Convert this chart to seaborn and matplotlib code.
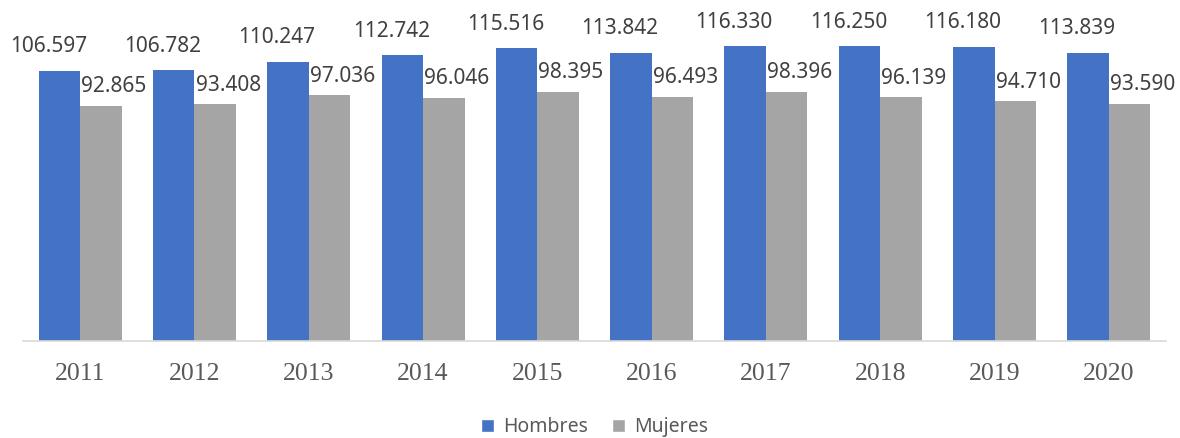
import pandas as pd
import seaborn as sns
import matplotlib.pyplot as plt
from matplotlib.patches import Patch

# data
years = ['2011', '2012', '2013', '2014', '2015', '2016', '2017', '2018', '2019', '2020']
hombres = [106.597, 106.782, 110.247, 112.742, 115.516, 113.842, 116.330, 116.250, 116.180, 113.839]
mujeres = [92.865, 93.408, 97.036, 96.046, 98.395, 96.493, 98.396, 96.139, 94.710, 93.590]
series = ['Hombres', 'Mujeres']
colors = ['#4472C4', '#A5A5A5']

df = pd.DataFrame({'year': years * 2,
                   'sexo': [series[0]] * len(years) + [series[1]] * len(years),
                   'valor': hombres + mujeres})

sns.set_style('white')
fig = plt.figure(figsize=(11.8, 4.38), dpi=100)
ax = fig.add_axes([23 / 1180, 97 / 438, 1143 / 1180, 341 / 438])

sns.barplot(data=df, x='year', y='valor', hue='sexo', palette=colors,
            width=0.726, saturation=1, linewidth=0, ax=ax, legend=False)

ax.set_ylim(0, 134.6)
ax.set_xlim(-0.5, 9.5)

# data labels, offset like the original
offs = {series[0]: (-11, 24), series[1]: (13, 19)}
for cont, name in zip(ax.containers, series):
    for bar in cont:
        v = bar.get_height()
        ax.annotate(f'{v:.3f}', (bar.get_x() + bar.get_width() / 2, v),
                    xytext=offs[name], textcoords='offset pixels',
                    ha='center', va='center', fontsize=15,
                    family='Noto Sans', color='#404040')

ax.set_xlabel('')
ax.set_ylabel('')
ax.set_yticks([])
ax.tick_params(axis='x', length=0, pad=16)
for lab in ax.get_xticklabels():
    lab.set_family('Liberation Serif')
    lab.set_fontsize(18.5)
    lab.set_color('#595959')
for s in ['top', 'right', 'left']:
    ax.spines[s].set_visible(False)
ax.spines['bottom'].set_color('#D9D9D9')
ax.spines['bottom'].set_linewidth(1.2)

handles = [Patch(facecolor=c, label=n) for c, n in zip(colors, series)]
fig.legend(handles=handles, loc='center', bbox_to_anchor=(0.504, 1 - 427 / 438),
           ncol=2, frameon=False, prop={'family': 'Noto Sans', 'size': 14},
           labelcolor='#595959', handlelength=0.67, handleheight=0.67,
           handletextpad=0.45, columnspacing=1.25)

fig.savefig('out.png', dpi=100)
